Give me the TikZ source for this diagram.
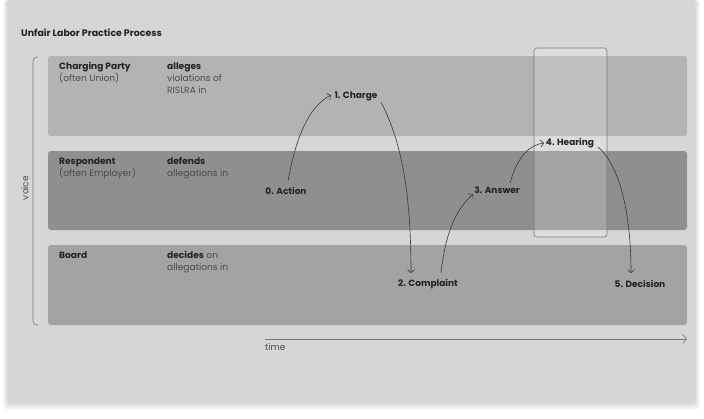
\documentclass[tikz,border=0pt]{standalone}
\usepackage{fontspec}
\setmainfont{Poppins}
\usetikzlibrary{arrows.meta}
\definecolor{panelc}{HTML}{D6D6D6}
\definecolor{laneA}{HTML}{B3B3B3}
\definecolor{laneB}{HTML}{8F8F8F}
\definecolor{laneC}{HTML}{A3A3A3}
\definecolor{inkc}{HTML}{222222}
\definecolor{subc}{HTML}{4A4A4A}
\definecolor{linec}{HTML}{7A7A7A}
\tikzset{
  lanebox/.style={rounded corners=3pt},
  lanehead/.style={anchor=north west, inner sep=0pt, align=left, text=inkc, font=\fontsize{9.1}{12}\selectfont},
  eventlbl/.style={inner sep=1.5pt, text=inkc, font=\bfseries\fontsize{9}{10}\selectfont},
  flow/.style={draw=inkc!90, line width=0.6pt, -{Straight Barb[length=3pt,width=7pt]}},
}
\newcommand{\sub}[1]{\textcolor{subc}{#1}}
\begin{document}
\begin{tikzpicture}[x=1pt,y=-1pt]
\useasboundingbox (0,0) rectangle (704,418);
\fill[white] (0,0) rectangle (704,418);
% shadow
\foreach \i in {1,...,8}{
  \fill[black,opacity=0.018,rounded corners=3pt] (8-\i*0.6,0) rectangle (695+\i*0.6,402+\i*1.0);
}
\fill[panelc] (8,0) rectangle (695,402);

\node[anchor=west, inner sep=0pt, text=inkc, font=\bfseries\fontsize{9.4}{10}\selectfont] (title) at (21,32.5) {Unfair Labor Practice Process};

% lanes
\fill[laneA,lanebox] (48,56) rectangle (687,136);
\fill[laneB,lanebox] (48,151) rectangle (687,230);
\fill[laneC,lanebox] (48,245) rectangle (687,325);

% voice bracket
\draw[linec, line width=0.6pt, rounded corners=4pt] (38,57) -- (33,57) -- (33,325) -- (38,325);
\node[rotate=90, text=subc, inner sep=0pt, font=\fontsize{9}{10}\selectfont] (voice) at (25,188) {voice};

% hearing box
\draw[draw=linec, fill=white, fill opacity=0.18, line width=0.6pt, rounded corners=3pt] (534,48) rectangle (607,237);

% lane headings
\node[lanehead] (cp) at (59,62.5) {\textbf{Charging Party}\\\sub{(often Union)}};
\node[lanehead] (cpv) at (167,62.5) {\textbf{alleges}\\\sub{violations of}\\\sub{RISLRA in}};
\node[lanehead] (rs) at (59,157.5) {\textbf{Respondent}\\\sub{(often Employer)}};
\node[lanehead] (rsv) at (167,157.5) {\textbf{defends}\\\sub{allegations in}};
\node[lanehead] (bd) at (59,251.5) {\textbf{Board}};
\node[lanehead] (bdv) at (167,251.5) {\textbf{decides} \sub{on}\\\sub{allegations in}};

% events
\node[eventlbl] (act) at (286,191) {0. Action};
\node[eventlbl] (chg) at (356,96) {1. Charge};
\node[eventlbl] (cmp) at (428,284) {2. Complaint};
\node[eventlbl] (ans) at (497,190) {3. Answer};
\node[eventlbl] (hea) at (570,143) {4. Hearing};
\node[eventlbl] (dec) at (640,284) {5. Decision};

% flows
\draw[flow] ([shift={(2,-10)}]act.center) .. controls +(10,-55) and +(-18,10) .. ([shift={(-25,-1)}]chg.center);
\draw[flow] ([shift={(25,6)}]chg.center) .. controls +(18,35) and +(0,-90) .. ([shift={(-17,-11)}]cmp.center);
\draw[flow] ([shift={(13,-11)}]cmp.center) .. controls +(5,-45) and +(-15,14) .. ([shift={(-24,4)}]ans.center);
\draw[flow] ([shift={(13,-7)}]ans.center) .. controls +(8,-28) and +(-14,2) .. ([shift={(-26,0)}]hea.center);
\draw[flow] ([shift={(28,4)}]hea.center) .. controls +(18,15) and +(0,-70) .. ([shift={(-9,-11)}]dec.center);

% time axis
\coordinate (t0) at (265,339);
\coordinate (t1) at (687,339);
\draw[linec, line width=0.6pt, -{Straight Barb[length=4pt,width=9pt]}] (t0) -- (t1);
\node[anchor=north west, inner sep=0pt, text=subc, font=\fontsize{9}{10}\selectfont] (time) at (265,343.5) {time};
\end{tikzpicture}
\end{document}
